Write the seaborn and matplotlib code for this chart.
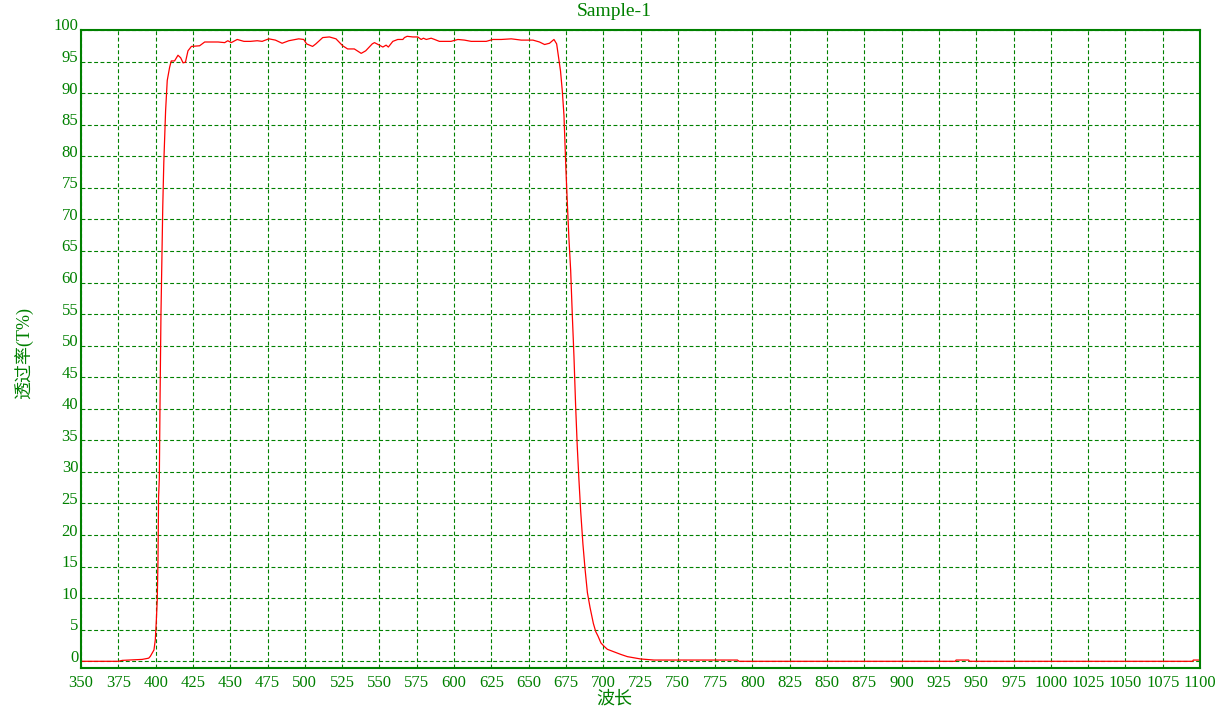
import matplotlib
matplotlib.use("Agg")
import matplotlib.pyplot as plt
import matplotlib.transforms as mtransforms
import seaborn as sns
import pandas as pd

# ---- data ----
wavelength = [350, 375, 377.7, 382, 391, 395.4, 396.5, 398.9, 399.8, 400.5, 401.1, 401.6, 402.0,
              402.5, 403.0, 403.6, 404.2, 404.8, 405.5, 406.2, 406.7, 407.8, 409.4, 410.5, 412.7,
              415.0, 416.8, 418.4, 420.0, 421.7, 424.0, 429.5, 432.9, 441.9, 446.3, 448.4, 450.7,
              454.7, 459.2, 463.6, 468.1, 471.4, 475.9, 480.3, 484.8, 489.3, 495.9, 499.3, 501.2,
              505.2, 507.4, 512.0, 516.5, 520.9, 525.4, 528.7, 533.2, 537.8, 540.8, 545.2, 546.7,
              550.0, 552.3, 554.5, 556.0, 559.0, 562.3, 565.7, 566.8, 568.6, 572.4, 575.7, 578.0,
              579.5, 581.4, 584.7, 587.0, 590.2, 598.0, 602.6, 607.0, 611.5, 616.0, 621.6, 626.1,
              631.7, 638.4, 645.1, 652.9, 657.3, 660.7, 664.0, 667.0, 668.8, 670.2, 671.4, 672.6,
              673.7, 674.3, 675.0, 675.9, 677.0, 678.2, 679.3, 680.4, 681.5, 682.6, 683.7, 684.9,
              686.4, 687.8, 689.4, 691.2, 693.4, 695.0, 696.5, 698.5, 700.5, 702.8, 707.2, 711.7,
              716.2, 725.1, 734.0, 790.0, 791.0, 936.0, 936.5, 945.0, 945.5, 1095.0, 1095.5, 1100.0]
transmittance = [0.0, 0.0, 0.15, 0.2, 0.3, 0.5, 0.8, 1.8, 3.4, 6.5, 9.7, 16, 26,
                 29, 42, 55, 64, 72, 79, 84, 87.2, 92.0, 94.1, 95.1, 95.1,
                 96.0, 95.6, 94.8, 94.9, 96.7, 97.4, 97.5, 98.1, 98.1, 98.0, 98.3, 98.0,
                 98.5, 98.2, 98.2, 98.3, 98.2, 98.6, 98.4, 97.9, 98.3, 98.6, 98.5, 97.8,
                 97.4, 97.8, 98.8, 98.9, 98.6, 97.5, 97.0, 97.0, 96.3, 96.7, 97.8, 98.0,
                 97.6, 97.3, 97.6, 97.3, 98.2, 98.5, 98.5, 98.8, 99.0, 98.9, 98.9, 98.5,
                 98.7, 98.5, 98.7, 98.5, 98.2, 98.2, 98.5, 98.4, 98.2, 98.2, 98.2, 98.5,
                 98.5, 98.6, 98.4, 98.4, 98.1, 97.7, 97.9, 98.5, 97.8, 95.5, 93.5, 90.3,
                 86.5, 82.6, 78.0, 72.9, 67.1, 61.9, 54.8, 48.3, 40.6, 34.1, 28.9, 23.8,
                 18.6, 14.7, 10.9, 8.5, 6.0, 4.7, 4.0, 2.9, 2.4, 1.9, 1.5, 1.1,
                 0.74, 0.37, 0.2, 0.2, 0.0, 0.0, 0.2, 0.2, 0.0, 0.0, 0.2, 0.2]

x_ticks = list(range(350, 1101, 25))
y_ticks = list(range(0, 101, 5))
title_text = "Sample-1"
x_label = "波长"
y_label = "透过率(T%)"

GREEN = "#008000"

sns.set_theme(style="white")
plt.rcParams['font.family'] = ['Liberation Serif', 'Noto Sans CJK SC', 'DejaVu Sans']

df = pd.DataFrame({"wl": wavelength, "T": transmittance})

fig = plt.figure(figsize=(12.23, 7.11), dpi=100)
ax = fig.add_axes([81/1223, 1 - 668/711, (1200 - 81)/1223, (668 - 30)/711])

sns.lineplot(data=df, x="wl", y="T", ax=ax, color="#FF0000", linewidth=0.9,
             estimator=None, sort=True)

ax.set_xlim(350, 1100)
ax.set_ylim(-1.06, 100)
ax.set_xticks(x_ticks)
ax.set_xticklabels([str(v) for v in x_ticks])
ax.set_yticks(y_ticks)
ax.set_yticklabels([str(v) for v in y_ticks])

ax.grid(True, color=GREEN, linestyle=(0, (3.5, 2.2)), linewidth=0.8)
ax.set_axisbelow(True)
for s in ax.spines.values():
    s.set_color(GREEN)
    s.set_linewidth(1.5)
    s.set_visible(True)

ax.tick_params(axis='both', length=0, labelsize=12, labelcolor=GREEN)
ax.tick_params(axis='x', pad=5)
ax.tick_params(axis='y', pad=2)
ax.set_xlabel("")
ax.set_ylabel("")

offset = mtransforms.ScaledTranslation(0, 5.5/100, fig.dpi_scale_trans)
for lbl in ax.get_yticklabels():
    lbl.set_transform(lbl.get_transform() + offset)

fig.text(614/1223, 1 - 11/711, title_text, ha='center', va='center', fontsize=14, color=GREEN)
fig.text(614/1223, 1 - 699/711, x_label, ha='center', va='center', fontsize=13, color=GREEN)
fig.text(24/1223, 1 - 353/711, y_label, ha='center', va='center', rotation=90, fontsize=13, color=GREEN)

fig.savefig("out.png", dpi=100)
